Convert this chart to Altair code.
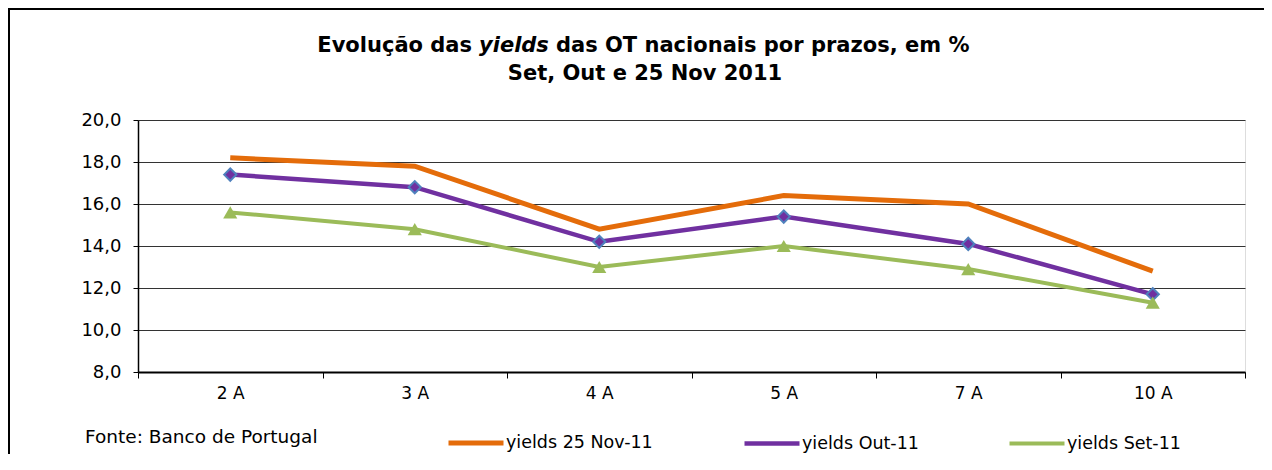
import altair as alt
import pandas as pd

categories = ["2 A", "3 A", "4 A", "5 A", "7 A", "10 A"]
nov_25 = [18.2, 17.8, 14.8, 16.4, 16.0, 12.8]
out_11 = [17.4, 16.8, 14.2, 15.4, 14.1, 11.7]
set_11 = [15.6, 14.8, 13.0, 14.0, 12.9, 11.3]
series_names = ["yields 25 Nov-11", "yields Out-11", "yields Set-11"]
series_colors = ["#E46C0A", "#7030A0", "#9BBB59"]
series_widths = [5, 4, 4]
y_ticks = [8, 10, 12, 14, 16, 18, 20]
title_part1 = "Evolução das"
title_italic = "yields"
title_part3 = "das OT nacionais por prazos, em %"
title_line2 = "Set, Out e 25 Nov 2011"
source_note = "Fonte: Banco de Portugal"

rows = []
for name, vals in zip(series_names, [nov_25, out_11, set_11]):
    for c, v in zip(categories, vals):
        rows.append({"prazo": c, "serie": name, "yield": v})
df = pd.DataFrame(rows)

FONT = "DejaVu Sans"

x_enc = alt.X(
    "prazo:N",
    sort=categories,
    scale=alt.Scale(type="band", paddingInner=0, paddingOuter=0),
    axis=alt.Axis(
        title=None, labelAngle=0, tickBand="extent", tickSize=6, tickColor="black",
        domainColor="black", domainWidth=2, labelFont=FONT, labelFontSize=17,
        labelColor="black", labelPadding=7, grid=False,
    ),
)
y_enc = alt.Y(
    "yield:Q",
    scale=alt.Scale(domain=[8, 20], nice=False, zero=False),
    axis=alt.Axis(
        title=None, values=y_ticks, grid=True, gridColor="#333333", gridWidth=1,
        tickSize=5, tickColor="black", domainColor="black", domainWidth=1.5,
        labelFont=FONT, labelFontSize=18, labelColor="black", labelPadding=12,
        labelExpr="replace(format(datum.value, '.1f'), '.', ',')",
    ),
)

base = alt.Chart(df)

lines = base.mark_line(strokeCap="butt", strokeJoin="miter").encode(
    x=x_enc,
    y=y_enc,
    color=alt.Color(
        "serie:N",
        sort=series_names,
        scale=alt.Scale(domain=series_names, range=series_colors),
        legend=alt.Legend(
            title=None, orient="none", direction="horizontal", columns=3,
            legendX=308, legendY=293, symbolType="stroke", symbolSize=3025,
            symbolStrokeWidth=5, columnPadding=82, labelOffset=0,
            labelFont=FONT, labelFontSize=17.5, labelColor="black",
        ),
    ),
    strokeWidth=alt.StrokeWidth(
        "serie:N",
        scale=alt.Scale(domain=series_names, range=series_widths),
        legend=None,
    ),
)

diamonds = base.transform_filter(alt.datum.serie == series_names[1]).mark_point(
    shape="diamond", filled=True, size=150, fill=series_colors[1],
    stroke="#4F81BD", strokeWidth=2, opacity=1,
).encode(x=x_enc, y=y_enc)

triangles = base.transform_filter(alt.datum.serie == series_names[2]).mark_point(
    shape="triangle-up", filled=True, size=200, fill=series_colors[2],
    strokeWidth=0, opacity=1,
).encode(x=x_enc, y=y_enc)

one = pd.DataFrame({"a": [0]})

def text_piece(txt, xpos, ypos, align, italic=False):
    return alt.Chart(pd.DataFrame({"t": [txt]})).mark_text(
        align=align, baseline="alphabetic", font=FONT, fontSize=21,
        fontWeight="bold", fontStyle="italic" if italic else "normal", color="black",
    ).encode(x=alt.value(xpos), y=alt.value(ypos), text="t:N")

t1 = text_piece(title_part1, 334, -68, "right")
t2 = text_piece(title_italic, 341, -68, "left", italic=True)
t3 = text_piece(title_part3, 418, -68, "left")
t4 = text_piece(title_line2, 507, -40, "center")

note = alt.Chart(pd.DataFrame({"t": [source_note]})).mark_text(
    align="left", baseline="middle", font=FONT, fontSize=18.5, color="black"
).encode(x=alt.value(-53), y=alt.value(317), text="t:N")

border_top = alt.Chart(one).mark_rule(color="black", strokeWidth=2).encode(
    x=alt.value(-130), x2=alt.value(1126), y=alt.value(-111)
)
border_left = alt.Chart(one).mark_rule(color="black", strokeWidth=2).encode(
    x=alt.value(-129), y=alt.value(-112), y2=alt.value(334)
)

chart = alt.layer(
    lines, diamonds, triangles, note, t1, t2, t3, t4, border_top, border_left
).properties(
    width=1107,
    height=252,
    autosize=alt.AutoSizeParams(type="none"),
    padding={"left": 130, "top": 112, "right": 19, "bottom": 90},
).configure_view(stroke="#888888", strokeWidth=1).configure(background="white")

chart.save("out.html", embed_options={"renderer": "svg", "actions": False})
